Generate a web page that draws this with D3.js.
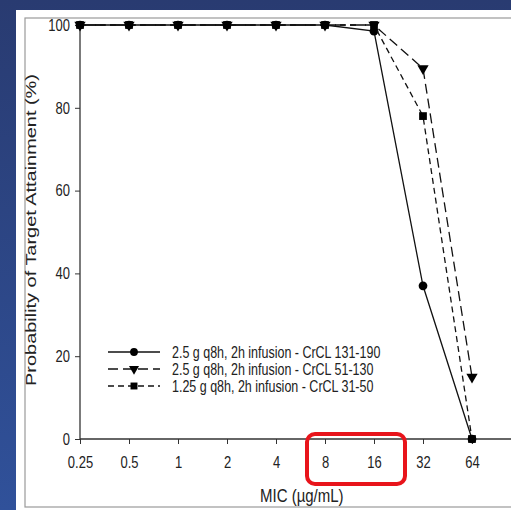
<!DOCTYPE html>
<html>
<head>
<meta charset="utf-8">
<script src="https://cdn.jsdelivr.net/npm/d3@7"></script>
<style>
  html, body { margin: 0; padding: 0; background: #2c3f78; }
  svg { display: block; }
</style>
</head>
<body>
<div id="container"></div>
<script>
// MIC values (x) and probability of target attainment (%)
var micLabels = ["0.25", "0.5", "1", "2", "4", "8", "16", "32", "64"];
var micValues = [0.25, 0.5, 1, 2, 4, 8, 16, 32, 64];
var crcl131 = [100, 100, 100, 100, 100, 100, 98.5, 37, 0];
var crcl51  = [100, 100, 100, 100, 100, 100, 100, 89.5, 15];
var crcl31  = [100, 100, 100, 100, 100, 100, 100, 78, 0];
var seriesNames = [
  "2.5 g q8h, 2h infusion - CrCL 131-190",
  "2.5 g q8h, 2h infusion - CrCL 51-130",
  "1.25 g q8h, 2h infusion - CrCL 31-50"
];
var yTicks = [0, 20, 40, 60, 80, 100];

var W = 511, H = 510;
var stretch = 1.25; // the source picture is a bit taller than wide

var svg = d3.select("#container").append("svg")
  .attr("width", W).attr("height", H)
  .style("font-family", "Liberation Sans, Arial, sans-serif");

// background
var defs = svg.append("defs");
var grad = defs.append("linearGradient").attr("id", "bg")
  .attr("x1", 0).attr("y1", 0).attr("x2", 0).attr("y2", 1);
grad.append("stop").attr("offset", "0%").attr("stop-color", "#293b71");
grad.append("stop").attr("offset", "100%").attr("stop-color", "#30519a");
svg.append("rect").attr("width", W).attr("height", H).attr("fill", "url(#bg)");

// white panel
svg.append("rect").attr("x", 16).attr("y", 10).attr("width", W - 16).attr("height", H - 10)
  .attr("fill", "#ffffff");
svg.append("rect").attr("x", 25).attr("y", 18).attr("width", W).attr("height", 489)
  .attr("fill", "none").attr("stroke", "#9a9a9a").attr("stroke-width", 1.2);

var x = d3.scaleLog().base(2).domain([0.25, 64]).range([80, 472]);
var y = d3.scaleLinear().domain([0, 100]).range([439, 25]);

// axes
var yAxis = d3.axisLeft(y).tickValues(yTicks).tickSize(5);
var gy = svg.append("g").attr("transform", "translate(80,0)").call(yAxis);
gy.select(".domain").remove();
gy.selectAll(".tick text").attr("x", 0)
  .attr("transform", "translate(-10,0) scale(1," + stretch + ")");
svg.append("line").attr("x1", 80).attr("x2", 80).attr("y1", y(0)).attr("y2", y(100))
  .attr("stroke", "#333").attr("stroke-width", 1.3);

var xAxis = d3.axisBottom(x).tickValues(micValues)
  .tickFormat(function(d, i) { return micLabels[i]; })
  .tickSize(5);
var gx = svg.append("g").attr("transform", "translate(0," + y(0) + ")").call(xAxis);
gx.select(".domain").remove();
gx.selectAll(".tick text").attr("y", 0).attr("dy", null)
  .attr("transform", "translate(0,29) scale(1," + stretch + ")");
svg.append("line").attr("x1", 80).attr("x2", W).attr("y1", y(0)).attr("y2", y(0))
  .attr("stroke", "#333").attr("stroke-width", 1.3);

svg.selectAll(".tick text").attr("font-size", 13).attr("fill", "#222")
  .attr("font-family", "Liberation Sans, Arial, sans-serif");
svg.selectAll(".tick line").attr("stroke", "#333");

// axis titles
svg.append("text").attr("transform", "translate(260,502) scale(1," + stretch + ")")
  .attr("font-size", 15).attr("fill", "#222")
  .text("MIC (\u00b5g/mL)");
svg.append("text").attr("transform", "translate(36,230) scale(1,1.33) rotate(-90)")
  .attr("text-anchor", "middle").attr("font-size", 15).attr("fill", "#222")
  .text("Probability of Target Attainment (%)");

// series
var series = [
  { name: seriesNames[0], values: crcl131, dash: null, symbol: d3.symbolCircle, size: 60 },
  { name: seriesNames[1], values: crcl51, dash: "10,5", symbol: d3.symbolTriangle, size: 55, flip: true },
  { name: seriesNames[2], values: crcl31, dash: "6,4", symbol: d3.symbolSquare, size: 60 }
];

var line = d3.line()
  .x(function(d, i) { return x(micValues[i]); })
  .y(function(d) { return y(d); });

series.forEach(function(s) {
  svg.append("path").datum(s.values).attr("d", line)
    .attr("fill", "none").attr("stroke", "#111").attr("stroke-width", 1.3)
    .attr("stroke-dasharray", s.dash);
  svg.selectAll(null).data(s.values).enter().append("path")
    .attr("d", d3.symbol().type(s.symbol).size(s.size))
    .attr("transform", function(d, i) {
      return "translate(" + x(micValues[i]) + "," + y(d) + ")" + (s.flip ? " rotate(180)" : "");
    })
    .attr("fill", "#000");
});

// legend
var legend = svg.append("g");
series.forEach(function(s, i) {
  var ly = 352 + i * 17;
  legend.append("line").attr("x1", 108).attr("x2", 160).attr("y1", ly).attr("y2", ly)
    .attr("stroke", "#111").attr("stroke-width", 1.3).attr("stroke-dasharray", s.dash);
  legend.append("path").attr("d", d3.symbol().type(s.symbol).size(s.size * 0.8))
    .attr("transform", "translate(134," + ly + ")" + (s.flip ? " rotate(180)" : ""))
    .attr("fill", "#000");
  legend.append("text")
    .attr("transform", "translate(172," + (ly + 5.5) + ") scale(1," + stretch + ")")
    .attr("font-size", 12.5).attr("fill", "#222").text(s.name);
});

// red highlight box
svg.append("rect").attr("x", 307).attr("y", 434).attr("width", 98).attr("height", 50)
  .attr("rx", 8).attr("ry", 8).attr("fill", "none")
  .attr("stroke", "#e8141b").attr("stroke-width", 4);
</script>
</body>
</html>
